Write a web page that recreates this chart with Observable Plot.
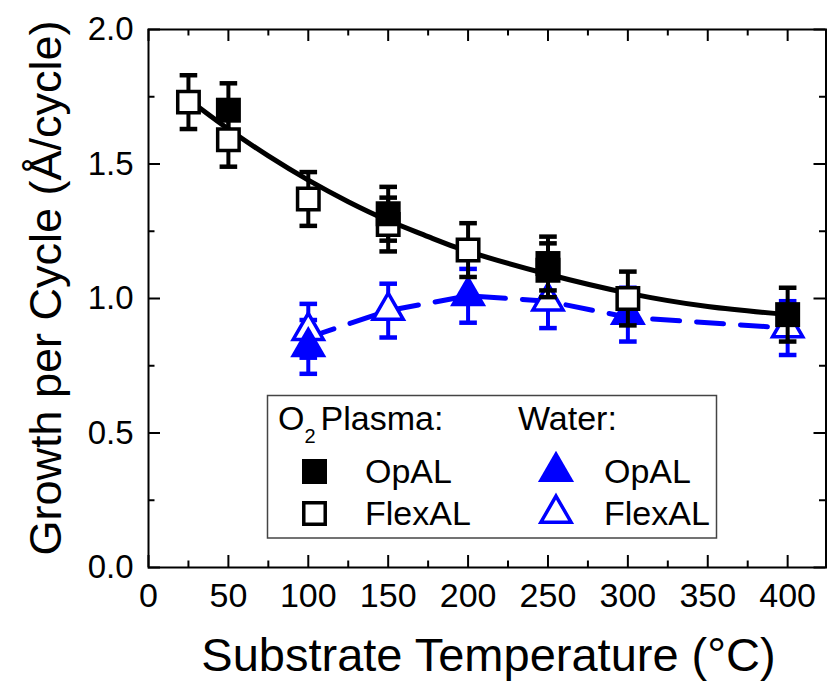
<!DOCTYPE html>
<html>
<head>
<meta charset="utf-8">
<script src="https://cdn.jsdelivr.net/npm/d3@7"></script>
<script src="https://cdn.jsdelivr.net/npm/@observablehq/plot@0.6"></script>
<style>
  html, body { margin: 0; padding: 0; background: #fff; }
  #chart { width: 827px; height: 682px; }
</style>
</head>
<body>
<div id="chart"></div>
<script>
// ---- data ----
const o2OpalTemp = [50, 150, 250, 250, 400];
const o2OpalGpc  = [1.70, 1.315, 1.13, 1.105, 0.94];
const o2OpalErr  = [0.10, 0.10, 0.10, 0.10, 0.10];

const o2FlexTemp = [25, 50, 100, 150, 200, 300];
const o2FlexGpc  = [1.73, 1.59, 1.37, 1.275, 1.18, 1.00];
const o2FlexErr  = [0.10, 0.10, 0.10, 0.10, 0.10, 0.10];

const h2oOpalTemp = [100, 200, 300];
const h2oOpalGpc  = [0.82, 1.01, 0.94];
const h2oOpalErr  = [0.10, 0.10, 0.10];

const h2oFlexTemp = [100, 150, 250, 400];
const h2oFlexGpc  = [0.88, 0.955, 0.99, 0.89];
const h2oFlexErr  = [0.10, 0.10, 0.10, 0.10];

// solid black guide curve (O2 plasma)
const fitTemp = [25, 50, 75, 100, 125, 150, 175, 200, 250, 300, 350, 400];
const fitGpc  = [1.74, 1.63, 1.53, 1.44, 1.36, 1.29, 1.23, 1.175, 1.09, 1.02, 0.97, 0.94];

// dashed blue guide line (water)
const waterLineTemp = [100, 150, 200, 250, 300, 400];
const waterLineGpc  = [0.855, 0.955, 1.01, 0.99, 0.93, 0.89];

const xMajorTicks = [0, 50, 100, 150, 200, 250, 300, 350, 400];
const xMinorTicks = [25, 75, 125, 175, 225, 275, 325, 375];
const yMajorTicks = [0, 0.5, 1.0, 1.5, 2.0];
const yMinorTicks = [0.25, 0.75, 1.25, 1.75];

const xTitle = "Substrate Temperature (°C)";
const yTitle = "Growth per Cycle (Å/cycle)";

// ---- build tables ----
const rows = (t, v, e) => t.map((d, i) => ({t: d, v: v[i], e: e[i]}));
const o2Opal = rows(o2OpalTemp, o2OpalGpc, o2OpalErr);
const o2Flex = rows(o2FlexTemp, o2FlexGpc, o2FlexErr);
const h2oOpal = rows(h2oOpalTemp, h2oOpalGpc, h2oOpalErr);
const h2oFlex = rows(h2oFlexTemp, h2oFlexGpc, h2oFlexErr);
const fit = fitTemp.map((d, i) => ({t: d, v: fitGpc[i]}));
const waterLine = waterLineTemp.map((d, i) => ({t: d, v: waterLineGpc[i]}));

const W = 827, H = 682;
const mL = 148, mR = 1.5, mT = 29, mB = 115;
const innerW = W - mL - mR, innerH = H - mT - mB;
const BLUE = "#0000ff";
const FONT = "'Liberation Sans', Arial, Helvetica, sans-serif";

// horizontal cap symbol for error bars
const capSymbol = {
  draw(ctx, size) {
    const r = Math.sqrt(size / Math.PI);
    ctx.moveTo(-r, 0);
    ctx.lineTo(r, 0);
  }
};

function errorMarks(data, color) {
  return [
    Plot.ruleX(data, {x: "t", y1: d => d.v - d.e, y2: d => d.v + d.e, stroke: color, strokeWidth: 4}),
    Plot.dot(data, {x: "t", y: d => d.v + d.e, symbol: capSymbol, r: 8.8, stroke: color, fill: "none", strokeWidth: 4.5, strokeLinecap: "butt"}),
    Plot.dot(data, {x: "t", y: d => d.v - d.e, symbol: capSymbol, r: 8.8, stroke: color, fill: "none", strokeWidth: 4.5, strokeLinecap: "butt"})
  ];
}

const svg = Plot.plot({
  width: W, height: H,
  marginLeft: mL, marginRight: mR, marginTop: mT, marginBottom: mB,
  x: {domain: [0, 424]},
  y: {domain: [0, 2]},
  style: {fontFamily: FONT, background: "#fff", color: "#000", overflow: "visible"},
  marks: [
    // water series (blue)
    Plot.line(waterLine, {x: "t", y: "v", stroke: BLUE, strokeWidth: 5, strokeDasharray: "27,17"}),
    ...errorMarks(h2oFlex, BLUE),
    ...errorMarks(h2oOpal, BLUE),
    Plot.dot(h2oFlex, {x: "t", y: "v", symbol: "triangle", r: 11.2, fill: "#fff", stroke: BLUE, strokeWidth: 3.5}),
    Plot.dot(h2oOpal, {x: "t", y: "v", symbol: "triangle", r: 13.4, fill: BLUE, stroke: "none"}),
    // O2 plasma series (black)
    Plot.line(fit, {x: "t", y: "v", stroke: "#000", strokeWidth: 5, curve: "natural"}),
    ...errorMarks(o2Flex, "#000"),
    ...errorMarks(o2Opal, "#000"),
    Plot.dot(o2Flex, {x: "t", y: "v", symbol: "square", r: 12.1, fill: "#fff", stroke: "#000", strokeWidth: 3.5}),
    Plot.dot(o2Opal, {x: "t", y: "v", symbol: "square", r: 14.1, fill: "#000", stroke: "none"}),
    // frame and inward ticks on all four sides
    Plot.frame({stroke: "#000", strokeWidth: 2}),
    Plot.tickX(xMajorTicks, {x: d => d, insetTop: innerH - 12, strokeWidth: 2}),
    Plot.tickX(xMinorTicks, {x: d => d, insetTop: innerH - 6.5, strokeWidth: 2}),
    Plot.tickX(xMajorTicks, {x: d => d, insetBottom: innerH - 12, strokeWidth: 2}),
    Plot.tickX(xMinorTicks, {x: d => d, insetBottom: innerH - 6.5, strokeWidth: 2}),
    Plot.tickY(yMajorTicks, {y: d => d, insetRight: innerW - 12, strokeWidth: 2}),
    Plot.tickY(yMinorTicks, {y: d => d, insetRight: innerW - 6.5, strokeWidth: 2}),
    Plot.tickY(yMajorTicks, {y: d => d, insetLeft: innerW - 12, strokeWidth: 2}),
    Plot.tickY(yMinorTicks, {y: d => d, insetLeft: innerW - 6.5, strokeWidth: 2}),
    Plot.axisX({ticks: xMajorTicks, tickSize: 0, tickPadding: 15, fontSize: 34, label: null, fill: "#000"}),
    Plot.axisY({ticks: yMajorTicks, tickFormat: d3.format(".1f"), tickSize: 0, tickPadding: 15, fontSize: 33, label: null, fill: "#000"})
  ]
});

const s = d3.select(svg);

// axis titles
s.append("text")
  .attr("x", 488.5).attr("y", 671)
  .attr("text-anchor", "middle")
  .attr("font-size", 47).attr("font-family", FONT).attr("fill", "#000")
  .text(xTitle);

s.append("text")
  .attr("transform", "translate(61,288) rotate(-90)")
  .attr("text-anchor", "middle")
  .attr("font-size", 45).attr("font-family", FONT).attr("fill", "#000")
  .text(yTitle);

// legend
const lg = s.append("g").attr("font-family", FONT).attr("fill", "#000").attr("text-anchor", "start");
lg.append("rect").attr("x", 267.5).attr("y", 395.5).attr("width", 449).attr("height", 142.5)
  .attr("fill", "#fff").attr("stroke", "#444").attr("stroke-width", 1.5);

const h1 = lg.append("text").attr("x", 278).attr("y", 430).attr("font-size", 34);
h1.append("tspan").text("O");
h1.append("tspan").attr("font-size", 20).attr("dy", 13).text("2");
h1.append("tspan").attr("dy", -13).attr("dx", 5).text("Plasma:");

lg.append("text").attr("x", 518).attr("y", 430).attr("font-size", 34).text("Water:");

const sq = d3.symbol().type(d3.symbolSquare);
const tri = d3.symbol().type(d3.symbolTriangle);
lg.append("path").attr("d", sq.size(Math.PI * 14.1 * 14.1)()).attr("transform", "translate(314.5,471.5)").attr("fill", "#000");
lg.append("path").attr("d", sq.size(Math.PI * 12.1 * 12.1)()).attr("transform", "translate(314.5,513.5)")
  .attr("fill", "#fff").attr("stroke", "#000").attr("stroke-width", 3.5);
lg.append("path").attr("d", tri.size(Math.PI * 13.4 * 13.4)()).attr("transform", "translate(556,471.5)").attr("fill", BLUE);
lg.append("path").attr("d", tri.size(Math.PI * 11.2 * 11.2)()).attr("transform", "translate(556,513.5)")
  .attr("fill", "#fff").attr("stroke", BLUE).attr("stroke-width", 3.5);

lg.append("text").attr("x", 365).attr("y", 483).attr("font-size", 34).text("OpAL");
lg.append("text").attr("x", 365).attr("y", 525).attr("font-size", 34).text("FlexAL");
lg.append("text").attr("x", 604).attr("y", 483).attr("font-size", 34).text("OpAL");
lg.append("text").attr("x", 604).attr("y", 525).attr("font-size", 34).text("FlexAL");

document.getElementById("chart").appendChild(svg);
</script>
</body>
</html>
